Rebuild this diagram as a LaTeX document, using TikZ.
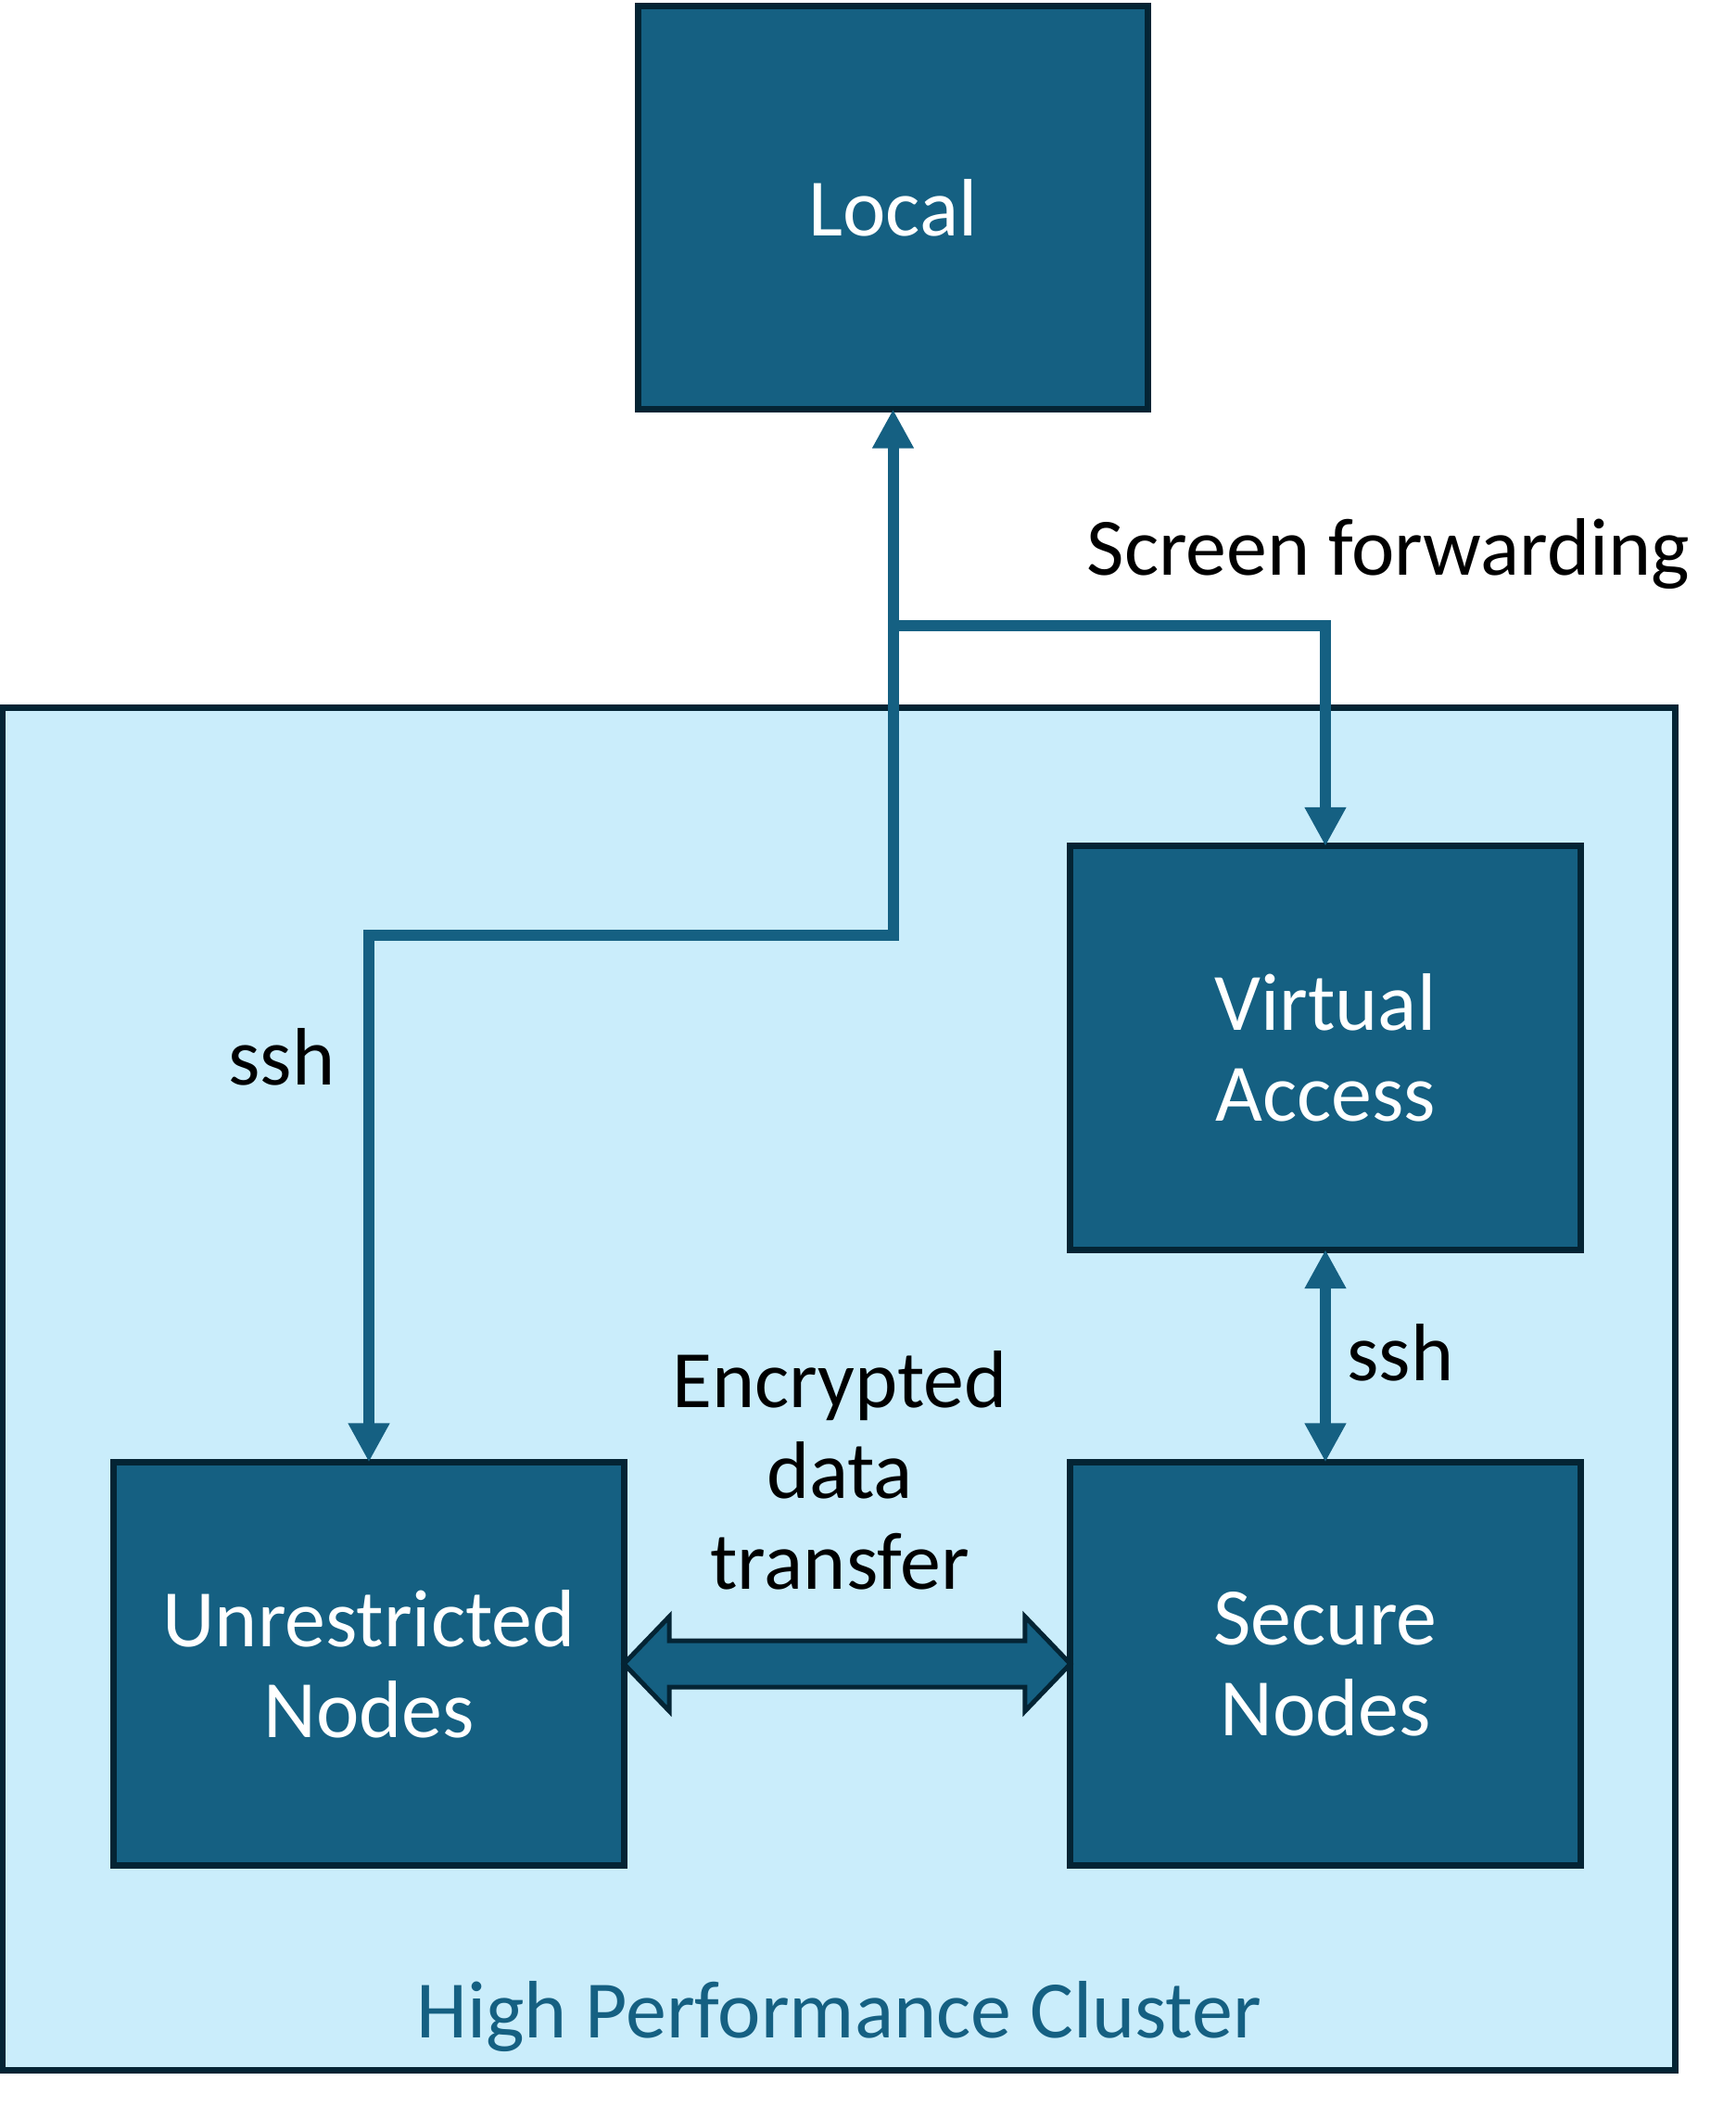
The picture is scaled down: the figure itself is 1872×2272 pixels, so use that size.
\documentclass[tikz,border=0pt]{standalone}
\usepackage{fontspec}
\setmainfont{Carlito}
\usetikzlibrary{arrows.meta,calc}
\definecolor{boxfill}{HTML}{156082}
\definecolor{boxline}{HTML}{042434}
\definecolor{clusterfill}{HTML}{CAEDFB}
\begin{document}
\begin{tikzpicture}[x=0.01cm,y=-0.01cm,
  txt/.style={font=\fontsize{25}{27.9}\selectfont},
  bigbox/.style={draw=boxline,fill=boxfill,line width=0.07cm,inner sep=0pt,outer sep=0pt,
    minimum width=5.5cm,minimum height=4.35cm,align=center,text=white,txt},
  cluster/.style={draw=boxline,fill=clusterfill,line width=0.07cm,inner sep=0pt,outer sep=0pt,
    minimum width=18.03cm,minimum height=14.70cm},
  conn/.style={draw=boxfill,line width=0.12cm,line join=miter,
    arrows={-Triangle[length=0.42cm,width=0.42cm]}},
  lbl/.style={txt,text=black,inner sep=0pt,anchor=base},
  blockarr/.style={draw=boxline,fill=boxfill,line width=0.05cm,line join=miter}]
\useasboundingbox (0,0) rectangle (1872,2272);
\node[cluster] (hpc) at (905,1498.5) {};
\node[lbl,text=boxfill] (hpclbl) at (905,2198) {High Performance Cluster};
\node[bigbox] (local) at (963.5,224) {Local};
\node[bigbox] (va) at (1430,1130.5) {Virtual\\Access};
\node[bigbox] (unres) at (398,1795) {Unrestricted\\Nodes};
\node[bigbox] (sec) at (1430,1795) {Secure\\Nodes};
\coordinate (split) at (963.5,675);
\coordinate (bendL) at (963.5,1009);
\draw[conn,arrows={Triangle[length=0.42cm,width=0.42cm]-Triangle[length=0.42cm,width=0.42cm]}]
  (local.south) -- (bendL) -| (unres.north);
\draw[conn] (split) -| (va.north);
\draw[conn,arrows={Triangle[length=0.42cm,width=0.42cm]-Triangle[length=0.42cm,width=0.42cm]}]
  (va.south) -- (sec.north);
\coordinate (bl) at (unres.east);
\coordinate (br) at (sec.west);
\draw[blockarr] (bl) -- ++(49,-51) -- ++(0,26) -- ($(br)+(-49,-25)$) -- ++(0,-26) -- (br)
  -- ++(-49,51) -- ++(0,-26) -- ($(bl)+(49,25)$) -- ++(0,26) -- cycle;
\node[lbl] (sflbl) at (1498,620) {Screen forwarding};
\node[lbl] (sshl) at (304,1170) {ssh};
\node[lbl] (sshr) at (1511,1489) {ssh};
\node[txt,align=center,inner sep=0pt] (enc) at (906,1586) {Encrypted\\data\\transfer};
\end{tikzpicture}
\end{document}
